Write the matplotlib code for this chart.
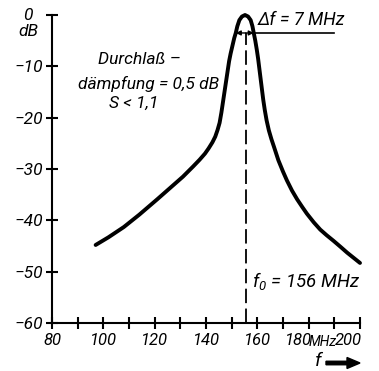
import matplotlib
matplotlib.use("Agg")
import matplotlib.pyplot as plt
import matplotlib.transforms as mtransforms
from matplotlib.patches import FancyArrow

# curve: frequency in MHz, attenuation in dB
freq = [97, 102, 108, 114, 121, 126, 131, 135, 137.5, 139.6, 141, 142.5, 143.6,
        144.5, 145.3, 146, 146.6, 147.2, 147.8, 148.4, 149, 149.6, 150.3, 151,
        151.6, 152.2, 153, 154, 155.2, 156.4, 157.4, 158.1, 158.6, 159.2, 159.8,
        160.3, 160.8, 161.3, 161.8, 162.3, 162.9, 163.6, 164.5, 165.5, 166.5,
        168.2, 170, 171.5, 173.5, 175.5, 177.5, 179.3, 182, 184.5, 187, 189.7,
        192.5, 195, 197.5, 200]
atten = [-44.8, -43.3, -41.3, -38.9, -35.9, -33.7, -31.5, -29.5, -28.2, -27.0,
         -26.0, -24.8, -23.7, -22.4, -21.0, -19.0, -17.0, -15.0, -13.0, -11.0,
         -9.0, -7.5, -6.0, -4.5, -3.5, -2.2, -1.0, -0.3, 0.0, -0.3, -1.0, -2.2,
         -3.5, -5.0, -6.8, -8.5, -10.5, -12.5, -14.5, -16.5, -18.5, -20.5, -22.5,
         -24.2, -25.7, -28.3, -30.5, -32.2, -34.2, -35.9, -37.4, -38.7, -40.4,
         -41.8, -42.9, -44.0, -45.2, -46.3, -47.3, -48.3]

f0 = 155.5
bw_left, bw_right = 151.6, 158.6   # -3.5 dB points
bw_level = -3.5

xticks = list(range(80, 201, 10))
xlabels = ["80", "100", "120", "140", "160", "180", "200"]
yticks = list(range(-60, 1, 10))
ylabels = ["\u221260", "\u221250", "\u221240", "\u221230", "\u221220", "\u221210", ""]

FONT = "Roboto"
plt.rcParams['font.family'] = [FONT, 'DejaVu Sans']
plt.rcParams['font.style'] = 'italic'
plt.rcParams['mathtext.fontset'] = 'custom'
plt.rcParams['mathtext.it'] = FONT + ':italic'
plt.rcParams['mathtext.rm'] = FONT + ':italic'

W, H = 379, 371
fig = plt.figure(figsize=(W / 100, H / 100), dpi=100)
ax = fig.add_axes([52 / W, 1 - 323 / H, (360 - 52) / W, (323 - 15) / H])


def px(x, y):
    return x / W, 1 - y / H


ax.plot(freq, atten, color='black', lw=2.8, solid_capstyle='round',
        solid_joinstyle='round', clip_on=False, zorder=3)
ax.plot([f0, f0], [-60, bw_level], color='black', lw=1.3,
        dashes=(8, 3), zorder=2)

# -3 dB width marker
for xb in (bw_left, bw_right):
    ax.annotate("", xy=(xb, bw_level), xytext=(f0, bw_level),
                arrowprops=dict(arrowstyle='-|>', color='black', lw=1,
                                mutation_scale=7, shrinkA=0, shrinkB=0))
ax.plot([bw_right, 190], [bw_level, bw_level], color='black', lw=1.2,
        clip_on=False)

ax.set_xlim(80, 200)
ax.set_ylim(-60, 0)
for s in ['top', 'right']:
    ax.spines[s].set_visible(False)
for s in ['left', 'bottom']:
    ax.spines[s].set_linewidth(1.5)

ax.set_xticks(xticks)
ax.set_xticklabels([str(t) if str(t) in xlabels else "" for t in xticks])
ax.set_yticks(yticks)
ax.set_yticklabels(ylabels)
ax.tick_params(direction='inout', length=9, width=1.5, labelsize=12.5)
ax.tick_params(axis='x', pad=2.5, labelsize=12)
ax.tick_params(axis='y', pad=1.5)


def shift(lab, dx):
    lab.set_transform(lab.get_transform() +
                      mtransforms.ScaledTranslation(dx / 100, 0, fig.dpi_scale_trans))


# squeeze the last labels as in the original
for lab in ax.get_xticklabels():
    if lab.get_text() == "200":
        lab.set_horizontalalignment('right')
        shift(lab, 2)
    if lab.get_text() == "180":
        lab.set_horizontalalignment('right')
        shift(lab, 3)

fs = 12.5
fig.text(*px(323, 342), "MHz", ha='center', va='center', fontsize=10)
fig.text(*px(28, 16), "0", ha='center', va='center', fontsize=12.5)
fig.text(*px(28, 32), "dB", ha='center', va='center', fontsize=12.5)

fig.text(*px(139, 59), "Durchla\u00df \u2013", ha='center', va='center', fontsize=fs)
fig.text(*px(149, 84), "d\u00e4mpfung = 0,5 dB", ha='center', va='center', fontsize=fs)
fig.text(*px(134, 103), "S < 1,1", ha='center', va='center', fontsize=fs)

fig.text(*px(301, 20), "\u0394f = 7 MHz", ha='center', va='center', fontsize=13)
fig.text(*px(306, 281), r"$f_0$ = 156 MHz", ha='center', va='center', fontsize=13.5)

fig.text(*px(318, 361), "f", ha='center', va='center', fontsize=14)
fig.patches.append(FancyArrow(
    *px(326, 363), 34 / W, 0, width=3.5 / H, head_width=11 / H,
    head_length=13 / W, length_includes_head=True, color='black',
    transform=fig.transFigure, figure=fig))

fig.savefig("out.png", dpi=100)
